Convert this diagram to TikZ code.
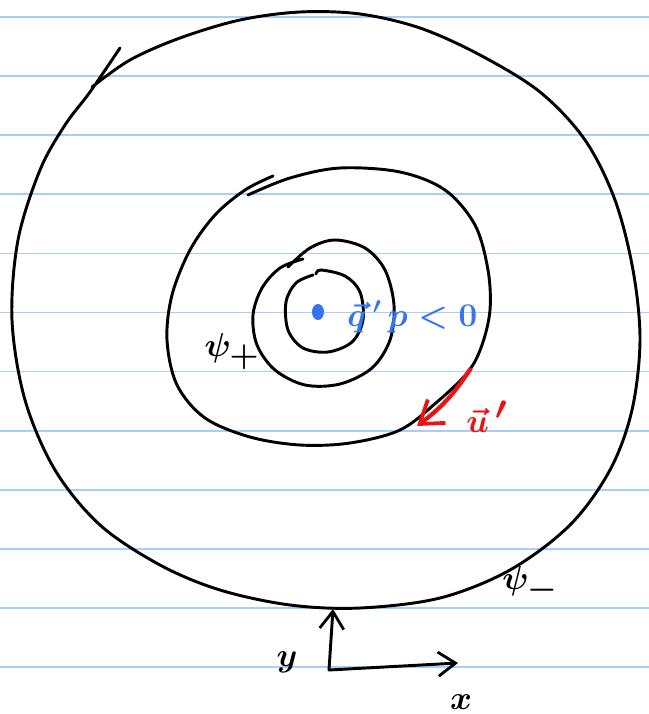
\documentclass[tikz,border=0pt]{standalone}
\usepackage{amsmath}
\usepackage{amssymb}
\usetikzlibrary{arrows.meta}

\definecolor{ruleblue}{RGB}{168,206,250}
\definecolor{inkblue}{RGB}{52,116,240}
\definecolor{inkred}{RGB}{235,20,20}

\begin{document}
\begin{tikzpicture}[
            x=0.75pt, y=-0.75pt,
            >={Straight Barb[length=13pt,width=18pt,line width=2.1pt]},
            ruling/.style={ruleblue, line width=1.3pt},
            contour/.style={line width=2.2pt, line cap=round, line join=round},
            lbl/.style={inner sep=0pt, font=\fontsize{28}{30}\selectfont\boldmath}
        ]
            \useasboundingbox[fill=white] (0,0) rectangle (649,714);
            \foreach \k in {0,...,11}
                \draw[ruling] (0,17+59.1*\k) -- (649,17+59.1*\k);

            % outer contour
            \draw[contour] plot[smooth, tension=0.55] coordinates {
                (92,87) (130,60) (180,38) (240,20) (300,12) (360,14) (420,28)
                (480,55) (540,92) (585,140) (615,200) (633,270) (640,340)
                (632,410) (610,470) (570,525) (510,570) (440,598) (360,608)
                (290,605) (220,590) (160,565) (100,525) (55,470) (25,400)
                (12,320) (18,240) (40,170) (65,125) (90,92) (120,48)};

            % middle contour
            \draw[contour] plot[smooth, tension=0.55] coordinates {
                (248,195) (290,178) (340,168) (400,172) (445,190) (475,225)
                (488,270) (490,310) (482,345) (468,372) (437,402) (400,430)
                (350,443) (300,445) (250,437) (205,418) (177,385) (167,340)
                (172,295) (190,250) (215,215) (245,190) (273,176)};

            % inner contours
            \draw[contour] plot[smooth, tension=0.55] coordinates {
                (288,267) (310,248) (335,240) (365,248) (385,270) (394,305)
                (390,340) (372,368) (340,384) (305,385) (275,370) (257,345)
                (253,315) (262,288) (280,268) (303,259)};
            \draw[contour] plot[smooth, tension=0.55] coordinates {
                (316,274) (321,270) (345,276) (360,292) (363,320) (352,342)
                (328,352) (303,348) (288,330) (286,302) (296,283) (313,275)};

            \fill[inkblue] (318,312) ellipse [x radius=6, y radius=8];
            \node[lbl, text=inkblue, anchor=base west, font=\fontsize{26}{28}\selectfont\boldmath] (cond) at (347,326) {$\vec{q}\,'\,p<0$};

            % perturbation velocity
            \coordinate (utail) at (471,368);
            \coordinate (uhead) at (417,426);
            \draw[inkred, line width=3.2pt, ->, >={Straight Barb[length=16pt,width=22pt,line width=2.8pt]}]
                (utail) to[bend left=10] (uhead);
            \node[lbl, text=inkred, anchor=base west, font=\fontsize{36}{38}\selectfont\boldmath] (uprime) at (466,432) {$\vec{u}\,'$};

            \node[lbl, font=\fontsize{40}{42}\selectfont\boldmath] (psiplus) at (232,352) {$\psi_+$};
            \node[lbl, font=\fontsize{40}{42}\selectfont\boldmath] (psiminus) at (530,585) {$\psi_-$};

            % axes
            \coordinate (origin) at (329,670);
            \coordinate (yend) at (333,609);
            \coordinate (xend) at (458,663);
            \draw[contour, ->] (origin) -- (yend);
            \draw[contour, ->] (origin) -- (xend);
            \node[lbl, font=\fontsize{44}{46}\selectfont\boldmath] (ylabel) at (287,662) {$y$};
            \node[lbl, font=\fontsize{36}{38}\selectfont\boldmath] (xlabel) at (461,702) {$x$};
        \end{tikzpicture}
\end{document}
